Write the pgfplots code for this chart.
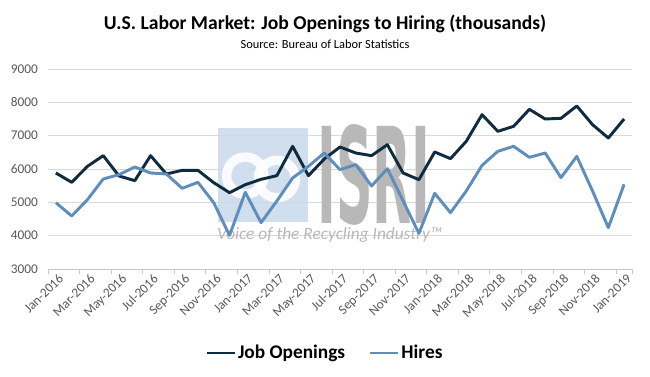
\documentclass[border=0pt]{standalone}
\usepackage{pgfplots}
\pgfplotsset{compat=1.18}
\usepackage{fontspec}
\setmainfont{Carlito}
\newfontfamily\wmfont{DejaVu Sans}
\definecolor{jo}{HTML}{0E2B40}
\definecolor{hi}{HTML}{5E8EBB}
\definecolor{ticktext}{HTML}{595959}
\definecolor{gridc}{HTML}{D9D9D9}
\definecolor{wmblue}{HTML}{C8D8EA}
\definecolor{wmgray}{HTML}{B8B8B8}

\pgfplotstableread{
x jo hi
0 5880 4990
1 5600 4590
2 6080 5080
3 6400 5700
4 5790 5830
5 5650 6060
6 6400 5880
7 5850 5850
8 5960 5420
9 5960 5600
10 5590 4990
11 5290 4010
12 5530 5300
13 5690 4390
14 5800 5040
15 6680 5730
16 5800 6080
17 6300 6480
18 6660 5980
19 6480 6130
20 6400 5490
21 6730 6010
22 5880 5040
23 5680 4070
24 6510 5270
25 6310 4690
26 6830 5340
27 7630 6110
28 7130 6530
29 7280 6680
30 7790 6350
31 7500 6480
32 7520 5740
33 7890 6380
34 7330 5340
35 6930 4240
36 7500 5540
}\datatable

\begin{document}
\begin{tikzpicture}
\useasboundingbox (-36pt,-81pt) rectangle (451.5pt,201.75pt);
\begin{axis}[
  at={(0pt,0pt)}, anchor=south west,
  scale only axis, width=438pt, height=150pt,
  xmin=-0.5, xmax=36.5, ymin=3000, ymax=9000,
  ytick={3000,4000,...,9000},
  ymajorgrids, grid style={gridc, line width=0.7pt},
  axis x line*=bottom, axis y line*=left,
  x axis line style={-, draw=gridc!80!gray, line width=0.7pt},
  y axis line style={draw=none},
  /pgf/number format/assume math mode=true,
  yticklabel style={/pgf/number format/1000 sep={}},
  scaled y ticks=false,
  tick label style={font=\fontsize{10}{11}\selectfont, text=ticktext},
  major tick length=0pt,
  xtick={0,2,...,36},
  xticklabels={Jan-2016,Mar-2016,May-2016,Jul-2016,Sep-2016,Nov-2016,Jan-2017,Mar-2017,May-2017,Jul-2017,Sep-2017,Nov-2017,Jan-2018,Mar-2018,May-2018,Jul-2018,Sep-2018,Nov-2018,Jan-2019},
  x tick label style={rotate=45, anchor=north east, inner sep=1pt, yshift=-2pt},
  yticklabel style={xshift=-4pt},
  extra x ticks={-0.5,1.5,3.5,5.5,7.5,9.5,11.5,13.5,15.5,17.5,19.5,21.5,23.5,25.5,27.5,29.5,31.5,33.5,35.5,36.5},
  extra x tick labels={},
  extra x tick style={grid=none, major tick length=4pt, tick align=outside, tick style={draw=gridc!80!gray, line width=0.7pt}},
  legend columns=2,
  legend style={at={(0.474,-0.42)}, anchor=center, draw=none, fill=none,
    font=\fontsize{14.5}{16}\selectfont\bfseries, text=black,
    nodes={inner sep=1.5pt},
    /tikz/every even column/.append style={column sep=16pt}},
  legend image code/.code={\draw[#1, line width=2.2pt] (0pt,0pt) -- (21pt,0pt);},
  clip=false,
]
% watermark (decoration)
\fill[wmblue, opacity=0.85] (axis cs:10.3,4410) rectangle (axis cs:15.95,7230);
\draw[white, line width=7pt, opacity=0.9] (axis cs:12.0,5800) circle[radius=14pt];
\draw[white, line width=7pt, opacity=0.9] (axis cs:14.0,5700) circle[radius=14pt];
\node[text=wmgray, font=\wmfont\bfseries\fontsize{100}{100}\selectfont, xscale=0.38, inner sep=0pt, anchor=west]
  at (axis cs:16.55,5820) {ISRI};
\node[text=wmgray, font=\itshape\fontsize{13}{14}\selectfont, inner sep=0pt, anchor=west]
  at (axis cs:10.2,4030) {Voice of the Recycling Industry\texttrademark};
\addplot[jo, line width=2.2pt, line join=round] table[x=x, y=jo] {\datatable};
\addlegendentry{Job Openings}
\addplot[hi, line width=2.2pt, line join=round] table[x=x, y=hi] {\datatable};
\addlegendentry{Hires}
\end{axis}
\node[anchor=base, font=\fontsize{14.7}{16}\selectfont\bfseries] at (207.75pt,179.25pt) {U.S. Labor Market: Job Openings to Hiring (thousands)};
\node[anchor=base, font=\fontsize{9.3}{10}\selectfont] at (207.75pt,165.5pt) {Source: Bureau of Labor Statistics};
\end{tikzpicture}
\end{document}
